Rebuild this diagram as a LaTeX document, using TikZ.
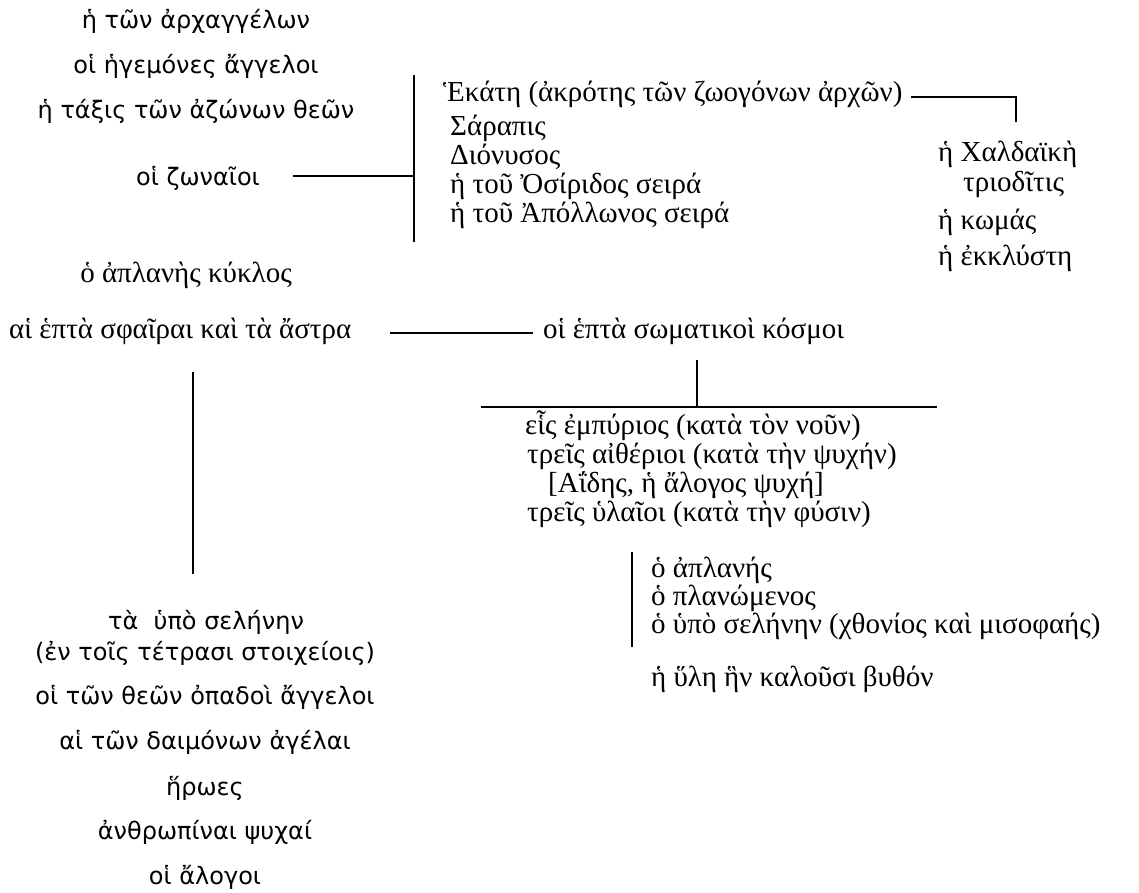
\documentclass[tikz,border=0pt]{standalone}
\usepackage{fontspec}
\setmainfont{Liberation Serif}
\newfontfamily\greeksans{DejaVu Sans}
\begin{document}
\begin{tikzpicture}[x=1pt,y=-1pt,
    serif/.style={inner sep=0pt, font=\fontsize{29}{32}\selectfont},
    sans/.style={inner sep=0pt, font=\greeksans\fontsize{24}{28}\selectfont},
    bar/.style={line width=1.3pt}]
  \useasboundingbox (0,0) rectangle (1139,892);

  % Colonna di sinistra, in alto
  \node[sans, anchor=base] (arch) at (196,28) {ἡ τῶν ἀρχαγγέλων};
  \node[sans, anchor=base] (heg) at (196,73) {οἱ ἡγεμόνες ἄγγελοι};
  \node[sans, anchor=base] (azon) at (196,118) {ἡ τάξις τῶν ἀζώνων θεῶν};
  \node[sans, anchor=base] (zon) at (198,185) {οἱ ζωναῖοι};

  % Le divinità dei ζωναῖοι
  \coordinate (vtop) at (414,75);
  \coordinate (vbot) at (414,242);
  \coordinate (vmid) at (414,176);
  \node[serif, anchor=base west] (hek) at (443,101) {Ἑκάτη (ἀκρότης τῶν ζωογόνων ἀρχῶν)};
  \node[serif, anchor=base west] (sar) at (450,135) {Σάραπις};
  \node[serif, anchor=base west] (dio) at (450,164) {Διόνυσος};
  \node[serif, anchor=base west] (osi) at (450,193) {ἡ τοῦ Ὀσίριδος σειρά};
  \node[serif, anchor=base west] (apo) at (450,222) {ἡ τοῦ Ἀπόλλωνος σειρά};
  \draw[bar] (vtop) -- (vbot);
  \draw[bar] ([xshift=33pt]zon.east |- vmid) -- (vmid);

  % Le tre Ecati
  \coordinate (hcorner) at (1016,97);
  \node[serif, anchor=base west] (chal) at (938,161) {ἡ Χαλδαϊκὴ};
  \node[serif, anchor=base west] (trio) at (963,191) {τριοδῖτις};
  \node[serif, anchor=base west] (kom) at (938,229) {ἡ κωμάς};
  \node[serif, anchor=base west] (ekk) at (938,265) {ἡ ἐκκλύστη};
  \draw[bar] ([xshift=8pt]hek.east |- hcorner) -- (hcorner) -- ++(0,25);

  % Le sfere
  \node[serif, anchor=base] (apl) at (186,282) {ὁ ἀπλανὴς κύκλος};
  \node[serif, anchor=base west] (sph) at (9,338) {αἱ ἑπτὰ σφαῖραι καὶ τὰ ἄστρα};
  \node[serif, anchor=base west] (som) at (543,338) {οἱ ἑπτὰ σωματικοὶ κόσμοι};
  \draw[bar] ([xshift=38pt]sph.east |- 0,333) -- ([xshift=-10pt]som.west |- 0,333);

  % I sette mondi
  \coordinate (stem) at (697,360);
  \coordinate (bl) at (481,407);
  \coordinate (br) at (937,407);
  \draw[bar] (stem) -- (stem |- bl);
  \draw[bar] (bl) -- (br);
  \node[serif, anchor=base west] (emp) at (525,434) {εἷς ἐμπύριος (κατὰ τὸν νοῦν)};
  \node[serif, anchor=base west] (aith) at (527,463) {τρεῖς αἰθέριοι (κατὰ τὴν ψυχήν)};
  \node[serif, anchor=base west] (had) at (548,492) {[Αΐδης, ἡ ἄλογος ψυχή]};
  \node[serif, anchor=base west] (hyl) at (527,521) {τρεῖς ὑλαῖοι (κατὰ τὴν φύσιν)};

  % I tre ὑλαῖοι
  \coordinate (htop) at (632,552);
  \coordinate (hbot) at (632,647);
  \node[serif, anchor=base west] (hapl) at (651,577) {ὁ ἀπλανής};
  \node[serif, anchor=base west] (plan) at (651,605) {ὁ πλανώμενος};
  \node[serif, anchor=base west] (sel) at (651,633) {ὁ ὑπὸ σελήνην (χθονίος καὶ μισοφαής)};
  \draw[bar] (htop) -- (hbot);
  \node[serif, anchor=base west] (byth) at (651,686) {ἡ ὕλη ἣν καλοῦσι βυθόν};

  % Colonna di sinistra, in basso
  \coordinate (ltop) at (193,372);
  \coordinate (lbot) at (193,574);
  \draw[bar] (ltop) -- (lbot);
  \node[sans, anchor=base] (hypo) at (206,629) {τὰ \ ὑπὸ σελήνην};
  \node[sans, anchor=base] (stoi) at (205,660) {(ἐν τοῖς τέτρασι στοιχείοις)};
  \node[sans, anchor=base] (opa) at (205,704) {οἱ τῶν θεῶν ὀπαδοὶ ἄγγελοι};
  \node[sans, anchor=base] (dai) at (205,749) {αἱ τῶν δαιμόνων ἀγέλαι};
  \node[sans, anchor=base] (her) at (205,795) {ἥρωες};
  \node[sans, anchor=base] (anth) at (205,839) {ἀνθρωπίναι ψυχαί};
  \node[sans, anchor=base] (alo) at (205,884) {οἱ ἄλογοι};
\end{tikzpicture}
\end{document}
